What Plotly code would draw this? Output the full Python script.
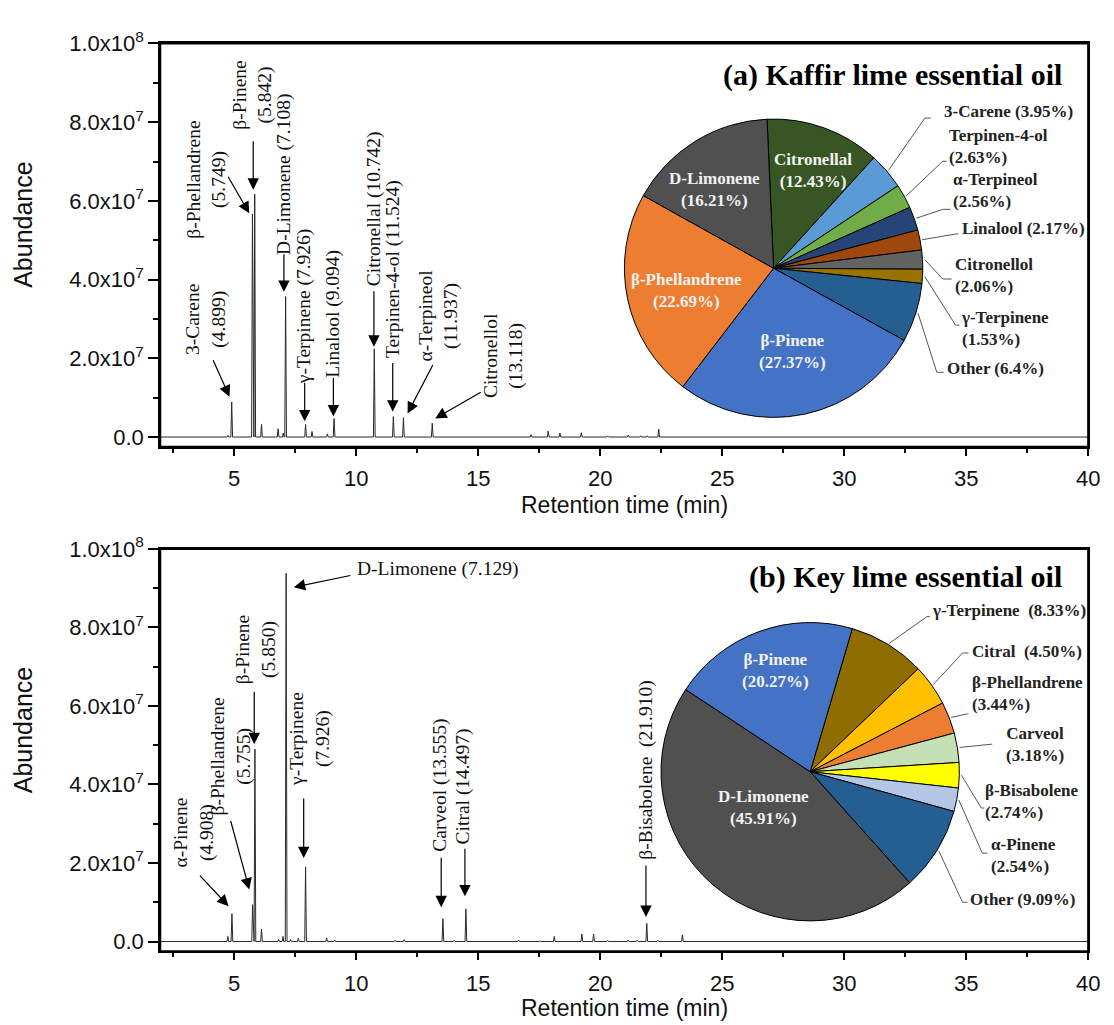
import math
import plotly.graph_objects as go

W, H = 1114, 1025

# ---------------- data ----------------
# (a) Kaffir lime chromatogram peaks: retention time (min) and abundance
kaffir_rt = [4.74, 4.899, 5.749, 5.842, 6.12, 6.80, 7.01, 7.108, 7.926, 8.19, 8.82, 9.094,
             10.742, 11.524, 11.937, 13.118, 17.17, 17.87, 18.35, 19.23, 20.31, 21.15,
             21.66, 21.93, 22.40]
kaffir_ab = [0.4e6, 8.9e6, 56.7e6, 61.7e6, 3.2e6, 2.1e6, 1.0e6, 35.7e6, 3.2e6, 1.4e6, 0.8e6, 4.7e6,
             22.4e6, 5.2e6, 4.9e6, 3.5e6, 0.6e6, 1.5e6, 1.0e6, 1.1e6, 0.3e6, 0.5e6,
             0.3e6, 0.3e6, 2.0e6]

# (b) Key lime chromatogram peaks
key_rt = [4.74, 4.908, 5.755, 5.850, 6.12, 6.82, 7.00, 7.129, 7.31, 7.63, 7.926, 8.79, 9.12,
          11.59, 11.97, 13.555, 14.02, 14.497, 16.66, 17.54, 18.12, 19.25, 19.73, 20.31,
          21.15, 21.52, 21.910, 22.36, 23.37]
key_ab = [1.3e6, 7.1e6, 9.4e6, 49.0e6, 3.2e6, 0.5e6, 1.3e6, 93.8e6, 0.5e6, 0.8e6, 19.0e6, 0.9e6, 0.4e6,
          0.3e6, 0.5e6, 5.8e6, 0.3e6, 8.3e6, 0.4e6, 0.2e6, 1.3e6, 1.9e6, 1.9e6, 0.3e6,
          0.4e6, 0.3e6, 4.6e6, 0.3e6, 1.7e6]

# Pie compositions (%)
kaffir_names = ['Citronellal', '3-Carene', 'Terpinen-4-ol', 'α-Terpineol', 'Linalool',
                'Citronellol', 'γ-Terpinene', 'Other', 'β-Pinene', 'β-Phellandrene', 'D-Limonene']
kaffir_pct = [12.43, 3.95, 2.63, 2.56, 2.17, 2.06, 1.53, 6.4, 27.37, 22.69, 16.21]
kaffir_pct_txt = ['12.43', '3.95', '2.63', '2.56', '2.17', '2.06', '1.53', '6.4', '27.37', '22.69', '16.21']
kaffir_colors = ['#375623', '#5B9BD5', '#70AD47', '#264478', '#9E480E', '#636363',
                 '#997300', '#255E91', '#4472C4', '#ED7D31', '#505050']

key_names = ['γ-Terpinene', 'Citral', 'β-Phellandrene', 'Carveol', 'β-Bisabolene',
             'α-Pinene', 'Other', 'D-Limonene', 'β-Pinene']
key_pct = [8.33, 4.50, 3.44, 3.18, 2.74, 2.54, 9.09, 45.91, 20.27]
key_pct_txt = ['8.33', '4.50', '3.44', '3.18', '2.74', '2.54', '9.09', '45.91', '20.27']
key_colors = ['#8F6D00', '#FFC000', '#ED7D31', '#C5E0B4', '#FFFF00', '#B4C7E7',
              '#255E91', '#505050', '#4472C4']

x_ticks = [5, 10, 15, 20, 25, 30, 35, 40]
x_minor = [2.5, 7.5, 12.5, 17.5, 22.5, 27.5, 32.5, 37.5]
y_ticks = [0, 2e7, 4e7, 6e7, 8e7, 1e8]
y_ticktext = ['0.0', '2.0x10<sup>7</sup>', '4.0x10<sup>7</sup>', '6.0x10<sup>7</sup>',
              '8.0x10<sup>7</sup>', '1.0x10<sup>8</sup>']
y_minor = [1e7, 3e7, 5e7, 7e7, 9e7]

X_MIN, X_MAX = 1.97, 40.0
Y_MIN, Y_MAX = -2.5e6, 1.0e8


def P(x, y):
    return x / W, 1 - y / H


def chromatogram(rts, abund, hw=0.035):
    xs, ys = [X_MIN], [0.0]
    for rt, h in sorted(zip(rts, abund)):
        xs += [rt - hw, rt, rt + hw]
        ys += [0.0, h, 0.0]
    xs.append(X_MAX)
    ys.append(0.0)
    return xs, ys


SERIF = 'Liberation Serif'
SANS = 'Liberation Sans'

fig = go.Figure()
kx, ky = chromatogram(kaffir_rt, kaffir_ab)
bx, by = chromatogram(key_rt, key_ab)
fig.add_trace(go.Scatter(x=kx, y=ky, mode='lines', line=dict(color='#2a2a2a', width=1),
                         xaxis='x', yaxis='y', showlegend=False, hoverinfo='skip'))
fig.add_trace(go.Scatter(x=bx, y=by, mode='lines', line=dict(color='#2a2a2a', width=1),
                         xaxis='x2', yaxis='y2', showlegend=False, hoverinfo='skip'))

# pies: centre x, centre y, radius (pixels)
PIE_A = (782, 257, 152)
PIE_B = (819, 770, 152)
ROT_A, ROT_B = -2.5, 16.4


def pie_domain(c):
    cx, cy, r = c
    return dict(x=[(cx - r) / W, (cx + r) / W], y=[1 - (cy + r) / H, 1 - (cy - r) / H])


fig.add_trace(go.Pie(values=kaffir_pct, labels=kaffir_names, sort=False, direction='clockwise',
                     rotation=ROT_A, textinfo='none', hoverinfo='label+percent',
                     marker=dict(colors=kaffir_colors, line=dict(color='black', width=1)),
                     domain=pie_domain(PIE_A), showlegend=False))
fig.add_trace(go.Pie(values=key_pct, labels=key_names, sort=False, direction='clockwise',
                     rotation=ROT_B, textinfo='none', hoverinfo='label+percent',
                     marker=dict(colors=key_colors, line=dict(color='black', width=1)),
                     domain=pie_domain(PIE_B), showlegend=False))

FX0, FX1 = 162, 1100
TOP_Y0, TOP_Y1 = 28, 439
BOT_Y0, BOT_Y1 = 543, 953
x_dom = [FX0 / W, FX1 / W]
top_y = [1 - TOP_Y1 / H, 1 - TOP_Y0 / H]
bot_y = [1 - BOT_Y1 / H, 1 - BOT_Y0 / H]

xcommon = dict(range=[X_MIN, X_MAX], tickmode='array', tickvals=x_ticks,
               ticktext=[str(v) for v in x_ticks], ticks='outside', ticklen=7, tickwidth=1.5,
               tickcolor='black', showline=True, linewidth=2, linecolor='black', mirror=True,
               showgrid=False, zeroline=False, ticklabelstandoff=4,
               tickfont=dict(family=SANS, size=22, color='#111'),
               minor=dict(tickvals=x_minor, ticks='outside', ticklen=4, tickwidth=1.5, tickcolor='black'),
               domain=x_dom)
ycommon = dict(range=[Y_MIN, Y_MAX], tickmode='array', tickvals=y_ticks, ticktext=y_ticktext,
               ticks='outside', ticklen=10, tickwidth=1.5, tickcolor='black', showline=True,
               linewidth=2, linecolor='black', mirror=True, showgrid=False, zeroline=False,
               tickfont=dict(family=SANS, size=22, color='#111'),
               minor=dict(tickvals=y_minor, ticks='outside', ticklen=5, tickwidth=1.5, tickcolor='black'))

fig.update_layout(
    width=W, height=H, margin=dict(l=0, r=0, t=0, b=0),
    paper_bgcolor='white', plot_bgcolor='white',
    xaxis=dict(**xcommon, anchor='y'),
    yaxis=dict(**ycommon, domain=top_y, anchor='x'),
    xaxis2=dict(**xcommon, anchor='y2'),
    yaxis2=dict(**ycommon, domain=bot_y, anchor='x2'),
)

ann = []
shapes = []

# frames round both chromatogram panels (paper coordinates)
for y0, y1 in ((TOP_Y0, TOP_Y1), (BOT_Y0, BOT_Y1)):
    (a0, b0), (a1, b1) = P(FX0, y1), P(FX1, y0)
    shapes.append(dict(type='rect', xref='paper', yref='paper', x0=a0, x1=a1, y0=b0, y1=b1,
                       line=dict(color='black', width=2), layer='above'))


def label(x, y, text, size=19.5, angle=-90, color='#111', family=SERIF, xanchor='center', align='center'):
    px, py = P(x, y)
    ann.append(dict(xref='paper', yref='paper', x=px, y=py, text=text, textangle=angle,
                    showarrow=False, font=dict(family=family, size=size, color=color),
                    xanchor=xanchor, yanchor='middle', align=align))


def arrow(tip, tail):
    px, py = P(*tip)
    ann.append(dict(xref='paper', yref='paper', x=px, y=py, text='', showarrow=True,
                    axref='pixel', ayref='pixel', ax=tail[0] - tip[0], ay=tail[1] - tip[1],
                    arrowhead=2, arrowsize=1.9, arrowwidth=1.2, arrowcolor='black', standoff=0))


# axis titles
for yc in (212, 727):
    label(23, yc, 'Abundance', size=25, family=SANS)
for yc in (498, 1011):
    label(631, yc, 'Retention time (min)', size=23, angle=0, family=SANS)

# peak labels: text, text centre, arrow tail, arrow tip (pixels)
top_labels = [
    ('3-Carene<br>(4.899)', (208, 309), (215, 350), (232, 388)),
    ('β-Phellandrene<br>(5.749)', (209, 167), (230, 163), (252, 201)),
    ('β-Pinene<br>(5.842)', (255, 80), (256, 127), (256, 177)),
    ('D-Limonene (7.108)', (287, 161), (287, 242), (287, 281)),
    ('γ-Terpinene (7.926)', (307, 296), (308, 373), (308, 413)),
    ('Linalool (9.094)', (337, 303), (337, 368), (337, 408)),
    ('Citronellal (10.742)', (378, 196), (378, 280), (378, 337)),
    ('Terpinen-4-ol (11.524)', (397, 258), (397, 353), (397, 403)),
    ('α-Terpineol<br>(11.937)', (443, 305), (438, 355), (412, 405)),
    ('Citronellol<br>(13.118)', (509, 346), (487, 383), (440, 410)),
]
bot_labels = [
    ('α-Pinene<br>(4.908)', (196, 832), (201, 875), (231, 907)),
    ('β-Phellandrene<br>(5.755)', (233, 754), (233, 820), (252, 890)),
    ('β-Pinene<br>(5.850)', (258, 645), (257, 688), (257, 742)),
    ('γ-Terpinene<br>(7.926)', (313, 737), (307, 797), (307, 858)),
    ('Carveol (13.555)', (445, 784), (446, 857), (446, 908)),
    ('Citral (14.497)', (468, 785), (470, 848), (470, 897)),
    ('β-Bisabolene  (21.910)', (653, 768), (653, 865), (653, 918)),
]
for t, c, tail, tip in top_labels + bot_labels:
    label(c[0], c[1], t)
    arrow(tip, tail)
label(442, 563, 'D-Limonene (7.129)', angle=0)
arrow((297, 582), (355, 570))

# panel titles
for t, y in (('<b>(a) Kaffir lime essential oil</b>', 60), ('<b>(b) Key lime essential oil</b>', 572)):
    px, py = P(1076, y)
    ann.append(dict(xref='paper', yref='paper', x=px, y=py, text=t, showarrow=False,
                    xanchor='right', yanchor='middle',
                    font=dict(family=SERIF, size=30, color='black')))


def mid_angles(vals, rot):
    tot = sum(vals)
    acc = rot
    out = []
    for v in vals:
        a = v / tot * 360
        out.append(acc + a / 2)
        acc += a
    return out


def pie_labels(names, pct_txt, vals, rot, geom, spec):
    cx, cy, r = geom
    mids = mid_angles(vals, rot)
    for i, s in enumerate(spec):
        name, pt = names[i], pct_txt[i]
        kind = s[0]
        if kind == 'in':
            label(s[1], s[2], f'<b>{name}<br>({pt}%)</b>', size=17, angle=0, color='#f2f2f2')
            continue
        _, lx, ly, sep, elbow, end = s
        text = f'<b>{name}{sep}({pt}%)</b>'
        label(lx, ly, text, size=17, angle=0, color='#222', xanchor='left',
              align='left' if kind == 'out' else 'center')
        th = math.radians(mids[i])
        sx, sy = cx + (r + 1) * math.sin(th), cy - (r + 1) * math.cos(th)
        pts = [P(sx, sy), P(*elbow), P(*end)]
        path = 'M ' + ' L '.join(f'{a:.5f},{b:.5f}' for a, b in pts)
        shapes.append(dict(type='path', xref='paper', yref='paper', path=path,
                           line=dict(color='#555555', width=1), layer='above'))


# label layout: ('in', x, y) or ('out', left_x, centre_y, separator, elbow, end)
spec_a = [
    ('in', 822, 157),
    ('out', 952, 97, ' ', (935, 104), (941, 104)),
    ('out', 957, 133, '<br>', (953, 148), (957, 148)),
    ('out', 961, 178, '<br>', (953, 197), (961, 197)),
    ('out', 970, 217, ' ', (967, 222), (969, 222)),
    ('out', 963, 264, '<br>', (953, 268), (962, 268)),
    ('out', 969, 318, '<br>', (966, 315), (970, 315)),
    ('out', 955, 359, ' ', (947, 363), (954, 363)),
    ('in', 801, 342),
    ('in', 694, 280),
    ('in', 722, 177),
]
spec_b = [
    ('out', 940, 606, '  ', (937, 612), (940, 612)),
    ('out', 981, 647, '  ', (973, 649), (979, 649)),
    ('out', 981, 690, '<br>', (978, 711), (979, 711)),
    ('outc', 1015, 742, '<br>', (1002, 742), (1003, 742)),
    ('out', 994, 800, '<br>', (992, 807), (995, 807)),
    ('out', 1000, 855, '<br>', (993, 853), (998, 853)),
    ('out', 979, 900, ' ', (973, 903), (978, 903)),
    ('in', 772, 806),
    ('in', 784, 667),
]
pie_labels(kaffir_names, kaffir_pct_txt, kaffir_pct, ROT_A, PIE_A, spec_a)
pie_labels(key_names, key_pct_txt, key_pct, ROT_B, PIE_B, spec_b)

fig.update_layout(annotations=ann, shapes=shapes)
fig.write_html('out.html', config={'displayModeBar': False},
               post_script="document.body.style.margin='0';document.body.style.overflow='hidden';")
